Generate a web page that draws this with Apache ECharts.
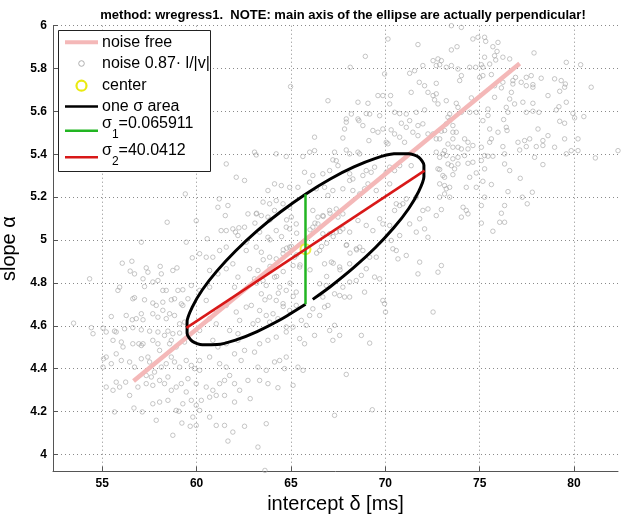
<!DOCTYPE html>
<html lang="en">
<head>
    <meta charset="utf-8">
    <title>wregress1 ellipse</title>
    <script src="https://cdn.jsdelivr.net/npm/echarts@6/dist/echarts.min.js"></script>
</head>
<body style="margin:0">
    <div id="main" style="width:625px;height:517px;"></div>

    <script type="text/javascript">
    // values
    var xTicks = [55, 60, 65, 70, 75, 80];
    var yTicks = [4, 4.2, 4.4, 4.6, 4.8, 5, 5.2, 5.4, 5.6, 5.8, 6];

    var noiseFree = [[56.66, 4.342], [77.12, 5.824]];
    var center = [[65.77, 4.957]];
    var sigma1Line = [[65.77, 4.700], [65.77, 5.214]];
    var sigma2Line = [[59.46, 4.590], [72.08, 5.324]];

    // one sigma ellipse (left open just right of the green line)
    var ellipsePts = [
        [66.155,4.723],[67.082,4.782],[68.336,4.872],[69.479,4.965],[70.459,5.058],[71.234,5.146],
        [71.771,5.227],[72.045,5.295],[72.045,5.349],[71.771,5.386],[71.234,5.403],[70.459,5.402],
        [69.479,5.381],[68.336,5.341],[67.082,5.285],[65.77,5.214],[64.458,5.132],[63.204,5.043],
        [62.061,4.949],[61.081,4.856],[60.306,4.768],[59.769,4.687],[59.495,4.619],[59.495,4.565],
        [59.769,4.528],[60.306,4.511],[61.081,4.512],[62.061,4.533],[63.204,4.573],[64.458,4.629],
        [65.77,4.700]
    ];

    // noisy samples
    var noisePts = [
        [61.57,5.355],[62.1,5.293],[59.4,5.215],[61.2,5.192],[61.66,5.161],[61.13,5.153],[61.52,5.114],[58.44,5.083],
        [60.56,5.006],[61.3,5.044],[61.57,5.044],[61.92,5.052],[62.06,5.037],[62.19,5.021],[62.24,5.057],[57.07,4.99],
        [59.45,4.99],[59.98,5.09],
        [70.14,5.938],[71.73,5.912],[68.94,5.857],[68.14,5.806],[71.29,5.778],[69.96,5.775],[71.55,5.79],[71.99,5.814],
        [71.8,5.736],[72.08,5.72],[72.26,5.689],[71.37,5.689],[64.98,5.716],[69.61,5.674],[69.87,5.674],[70.28,5.674],
        [66.96,5.65],[68.55,5.643],[69.08,5.638],[70.23,5.635],[68.2,5.588],[68.99,5.59],[69.17,5.588],[69.7,5.58],
        [67.93,5.565],[67.93,5.55],[68.55,5.565],[68.6,5.557],[70.49,5.596],[70.76,5.59],[71.11,5.588],[71.64,5.596],
        [72.08,5.607],[70.85,5.545],[71.29,5.557],[71.11,5.526],[71.73,5.534],[71.99,5.542],[67.84,5.518],[68.81,5.534],
        [69.34,5.511],[69.61,5.503],[69.87,5.518],[70.31,5.514],[67.75,5.476],[69.13,5.464],[70.49,5.495],[70.76,5.48],
        [66.25,5.48],[70.05,5.456],[70.14,5.449],[71.02,5.456],[71.46,5.503],[71.73,5.487],[72.26,5.495],[63.07,5.41],
        [63.16,5.397],[64.22,5.402],[64.75,5.39],[65.63,5.39],[65.99,5.41],[66.25,5.417],[67.31,5.41],[67.93,5.42],
        [68.11,5.402],[68.55,5.41],[68.64,5.402],[67.4,5.37],[67.22,5.374],[62.54,5.278],[65.72,5.316],[66.16,5.301],
        [66.69,5.309],[67.05,5.324],[67.49,5.347],[68.11,5.309],[68.28,5.285],[68.11,5.278],[68.81,5.301],[68.99,5.324],
        [69.43,5.34],[69.25,5.316],[70.23,5.34],[70.49,5.324],[70.76,5.347],[71.37,5.347],[70.05,5.316],[63.78,5.231],
        [64.13,5.262],[64.49,5.254],[64.93,5.246],[65.37,5.246],[65.99,5.27],[66.34,5.239],[66.78,5.246],[67.22,5.231],
        [66.96,5.208],[67.75,5.239],[68.28,5.231],[68.64,5.215],[68.9,5.239],[69.08,5.262],[69.52,5.231],[70.23,5.262],
        [70.58,5.169],[70.76,5.161],[70.93,5.169],[70.49,5.138],[71.11,5.192],[71.64,5.2],[72.26,5.145],[71.99,5.138],
        [63.52,5.177],[63.87,5.169],[64.22,5.184],[64.58,5.169],[64.93,5.153],[62.72,5.122],[63.16,5.122],[63.43,5.114],
        [63.78,5.107],[64.13,5.138],[64.75,5.06],[65.02,5.107],[65.28,5.075],[64.93,5.052],[66.16,5.138],[66.43,5.107],
        [66.69,5.114],[67.05,5.138],[67.4,5.145],[67.75,5.122],[67.49,5.107],[66.16,5.06],[66.43,5.075],[66.69,5.029],
        [67.05,5.029],[67.4,5.037],[67.75,5.052],[68.11,5.037],[68.55,5.091],[68.99,5.068],[69.34,5.044],[69.7,5.099],
        [69.87,5.075],[70.23,5.068],[71.29,5.075],[71.82,5.099],[71.64,5.037],[72.08,5.052],[72.26,5.013],[70.76,5.021],
        [70.31,4.998],[62.54,5.06],[62.63,4.99],[63.34,5.037],[63.78,5.013],[64.22,5.044],
        [73.5,6.0],[74.03,5.992],[74.64,5.938],[74.91,5.946],[75.26,5.946],[75.32,5.927],[75.97,5.922],[75.7,5.902],
        [75.92,5.88],[73.8,5.902],[73.5,5.887],[75.26,5.853],[75.79,5.86],[76.23,5.853],[76.59,5.845],[77.88,5.873],
        [79.59,5.829],[80.35,5.818],[80.91,5.713],[72.53,5.837],[72.7,5.814],[72.97,5.837],[72.79,5.845],[72.88,5.818],
        [73.23,5.806],[73.5,5.814],[73.85,5.798],[74.03,5.767],[73.94,5.744],[74.47,5.806],[74.79,5.806],[75.17,5.806],
        [75.09,5.818],[75.53,5.821],[75.85,5.84],[72.7,5.731],[72.53,5.674],[72.79,5.635],[73.23,5.65],[72.7,5.682],
        [72.61,5.654],[74.56,5.663],[75.0,5.759],[75.17,5.767],[75.62,5.772],[75.79,5.72],[76.23,5.736],[76.15,5.71],
        [76.76,5.744],[76.76,5.728],[76.9,5.759],[77.47,5.759],[77.73,5.767],[78.26,5.755],[77.47,5.72],[77.82,5.713],
        [77.82,5.725],[77.2,5.736],[78.97,5.752],[79.32,5.744],[79.54,5.728],[79.5,5.713],[79.24,5.694],[78.62,5.674],
        [79.59,5.643],[79.2,5.622],[79.06,5.607],[76.68,5.689],[76.59,5.658],[76.85,5.635],[76.41,5.619],[76.5,5.596],
        [77.29,5.643],[77.82,5.638],[75.79,5.666],[73.76,5.638],[73.85,5.619],[75.44,5.611],[74.82,5.596],[73.41,5.588],
        [73.32,5.573],[73.41,5.557],[74.03,5.596],[74.47,5.596],[77.47,5.596],[77.82,5.601],[78.14,5.596],[78.09,5.518],
        [78.35,5.464],[78.62,5.487],[79.24,5.554],[79.5,5.545],[79.94,5.591],[80.03,5.57],[80.52,5.576],[79.5,5.472],
        [73.23,5.542],[73.58,5.534],[73.14,5.511],[72.53,5.495],[72.97,5.508],[73.58,5.503],[73.76,5.503],[72.7,5.472],
        [72.88,5.472],[73.32,5.448],[73.14,5.417],[73.58,5.472],[73.58,5.433],[73.85,5.433],[74.03,5.425],[74.2,5.472],
        [74.38,5.456],[74.38,5.425],[74.64,5.441],[75.17,5.557],[75.44,5.581],[76.27,5.562],[76.41,5.526],[76.45,5.511],
        [75.97,5.503],[75.53,5.518],[75.62,5.472],[75.53,5.456],[75.09,5.433],[76.23,5.436],[77.03,5.456],[77.12,5.42],
        [77.38,5.464],[77.65,5.472],[77.47,5.436],[78.0,5.436],[78.35,5.441],[78.97,5.433],[79.59,5.402],[79.85,5.417],
        [80.21,5.472],[80.21,5.417],[81.13,5.383],[82.33,5.417],[72.7,5.41],[73.05,5.402],[72.88,5.386],[73.23,5.394],
        [73.32,5.355],[73.58,5.379],[73.85,5.386],[74.2,5.394],[75.26,5.394],[75.44,5.391],[75.7,5.391],[76.32,5.402],
        [77.91,5.386],[78.35,5.352],[72.79,5.332],[72.88,5.329],[73.05,5.301],[73.5,5.347],[73.67,5.332],[73.85,5.355],
        [74.38,5.358],[74.64,5.363],[75.09,5.371],[75.26,5.332],[76.32,5.355],[76.59,5.324],[73.14,5.293],[73.58,5.305],
        [74.47,5.293],[75.17,5.274],[74.82,5.313],[77.15,5.288],[75.62,5.259],[72.88,5.262],[73.14,5.254],[73.23,5.239],
        [73.41,5.246],[73.14,5.215],[72.88,5.2],[73.41,5.2],[74.29,5.246],[74.82,5.246],[76.5,5.226],[77.79,5.223],
        [77.26,5.2],[75.26,5.2],[75.09,5.161],[76.32,5.161],[77.52,5.169],[72.97,5.142],[74.12,5.153],[74.29,5.138],
        [74.38,5.122],[74.03,5.107],[72.7,5.114],[76.15,5.125],[76.32,5.083],[76.06,5.083],[75.7,5.041],[75.09,5.079],
        [54.33,4.819],[53.48,4.612],[54.51,4.563],[54.42,4.591],[56.06,4.892],[56.57,4.901],[56.48,4.855],[56.71,4.842],
        [57.33,4.87],[57.42,4.85],[58.07,4.877],[58.74,4.858],[58.96,4.87],[59.77,4.917],[55.92,4.78],[55.83,4.765],
        [57.16,4.819],[57.24,4.783],[57.68,4.804],[57.95,4.811],[58.13,4.842],[58.21,4.765],[58.39,4.765],[59.01,4.765],
        [59.27,4.768],[59.72,4.788],[56.62,4.726],[56.71,4.731],[57.24,4.721],[57.68,4.706],[57.86,4.695],[58.21,4.71],
        [58.21,4.672],[58.66,4.721],[58.83,4.726],[59.19,4.702],[59.27,4.695],[59.54,4.726],[55.48,4.643],[56.27,4.648],
        [56.59,4.628],[56.8,4.633],[57.07,4.656],[57.16,4.628],[57.68,4.656],[57.95,4.64],[58.39,4.633],[58.57,4.656],
        [58.83,4.648],[59.1,4.609],[59.36,4.617],[55.04,4.589],[55.21,4.571],[55.65,4.575],[55.74,4.571],[56.18,4.586],
        [56.62,4.591],[57.07,4.581],[57.51,4.575],[57.95,4.571],[58.3,4.555],[58.48,4.575],[58.74,4.563],[59.1,4.566],
        [55.57,4.532],[56.01,4.524],[56.1,4.501],[56.62,4.516],[57.07,4.508],[56.94,4.516],[57.16,4.516],[57.68,4.532],
        [57.95,4.516],[58.04,4.485],[58.57,4.516],[58.66,4.532],[58.92,4.501],[59.36,4.524],[55.07,4.446],[55.21,4.454],
        [55.04,4.407],[55.48,4.423],[55.74,4.469],[56.01,4.438],[56.45,4.431],[56.71,4.407],[57.07,4.446],[57.42,4.454],
        [57.51,4.431],[57.77,4.384],[58.13,4.407],[58.39,4.423],[58.66,4.454],[58.83,4.431],[59.1,4.407],[59.45,4.438],
        [59.72,4.415],[59.89,4.4],[55.21,4.314],[55.57,4.299],[55.74,4.337],[55.92,4.314],[56.24,4.337],[56.45,4.275],
        [56.89,4.314],[57.33,4.368],[57.33,4.33],[57.6,4.361],[57.68,4.322],[58.04,4.345],[58.3,4.33],[58.48,4.361],
        [58.66,4.299],[58.92,4.314],[59.19,4.33],[59.45,4.291],[59.54,4.353],[59.98,4.33],[55.65,4.198],[56.68,4.216],
        [57.12,4.198],[57.68,4.236],[58.04,4.244],[58.48,4.252],[58.92,4.205],[59.06,4.201],[59.27,4.236],[59.72,4.252],
        [59.98,4.229],[57.86,4.159],[59.22,4.146],[59.66,4.131],[58.74,4.089],[59.8,4.174],
        [60.16,4.936],[60.51,4.92],[60.86,4.92],[61.22,4.951],[61.57,4.967],[61.92,4.889],[60.69,4.858],[61.13,4.842],
        [61.57,4.866],[62.19,4.827],[62.01,4.78],[60.69,4.78],[60.16,4.765],[60.51,4.718],[61.04,4.671],[61.57,4.695],
        [62.1,4.664],[62.28,4.625],[60.69,4.633],[61.04,4.609],[61.75,4.578],[62.19,4.563],[60.16,4.578],[60.86,4.532],
        [61.13,4.501],[61.57,4.516],[62.19,4.532],[60.16,4.438],[60.69,4.454],[61.22,4.423],[61.57,4.407],[62.01,4.469],
        [62.36,4.438],[60.16,4.392],[60.51,4.314],[60.86,4.299],[61.22,4.33],[61.48,4.345],[61.75,4.368],[62.01,4.33],
        [62.28,4.299],[60.25,4.252],[60.69,4.267],[61.04,4.275],[61.48,4.275],[62.01,4.244],[60.69,4.174],[61.04,4.135],
        [61.48,4.135],[61.92,4.104],[61.66,4.062],[59.98,4.135],[60.16,4.205],
        [62.63,4.951],[63.16,4.967],[63.43,4.943],[63.87,4.92],[64.22,4.912],[64.58,4.936],[64.93,4.967],[65.19,4.92],
        [65.11,4.881],[65.46,4.874],[62.81,4.866],[63.25,4.858],[63.07,4.819],[63.52,4.811],[63.69,4.788],[64.13,4.827],
        [64.4,4.78],[64.75,4.765],[65.28,4.757],[63.43,4.749],[63.87,4.734],[64.22,4.718],[64.58,4.703],[62.63,4.687],
        [62.9,4.695],[63.34,4.671],[63.69,4.648],[64.05,4.656],[63.25,4.625],[62.99,4.609],[63.87,4.617],[64.31,4.633],
        [64.93,4.671],[65.28,4.695],[65.55,4.625],[65.99,4.648],[66.52,4.648],[66.78,4.687],[66.16,4.679],[64.75,4.594],
        [65.11,4.594],[65.81,4.602],[66.25,4.555],[67.05,4.578],[67.31,4.602],[67.58,4.555],[67.22,4.532],[62.54,4.485],
        [63.07,4.477],[63.34,4.516],[63.78,4.532],[64.22,4.547],[64.75,4.571],[65.46,4.54],[65.72,4.516],[64.13,4.431],
        [64.4,4.438],[64.75,4.454],[63.25,4.407],[63.69,4.392],[64.66,4.4],[65.37,4.407],[65.64,4.392],[62.72,4.345],
        [63.34,4.345],[63.78,4.33],[64.31,4.311],[65.11,4.322],[67.93,4.373],[68.73,4.555],[69.17,4.519],[62.84,4.26],
        [63.69,4.143],[62.54,4.131],[63.25,4.034],[67.31,4.182],[69.31,4.208],[63.62,3.925],
        [66.78,4.889],[67.14,4.897],[67.58,4.874],[68.11,4.889],[68.46,4.959],[68.64,4.967],[68.81,4.951],[69.17,4.92],
        [69.52,4.92],[68.99,4.866],[69.43,4.827],[69.7,4.819],[68.73,4.835],[68.46,4.811],[68.11,4.804],[67.75,4.78],
        [67.58,4.741],[67.31,4.749],[67.84,4.734],[68.11,4.734],[66.87,4.788],[66.52,4.796],[66.69,4.734],[66.96,4.695],
        [68.9,4.757],[69.87,4.718],[69.96,4.703],[70.01,4.664],[70.4,4.959],[70.58,4.951],[71.11,4.928],[70.67,4.912],
        [71.82,4.897],[71.73,4.842],[66.52,4.951],[67.93,4.975],
        [72.97,4.881],[72.79,4.85],[72.53,4.664],
        [63.18,5.125],[63.09,5.079],[63.89,5.094],[64.59,4.954],[64.77,4.962],[65.03,4.97],[65.3,4.931],[65.48,4.884],
        [66.01,4.861],[66.36,4.939],[66.62,4.97],[66.89,4.985],[67.24,5.016],[67.6,5.04],[67.95,4.978],[68.13,4.939],
        [68.48,4.954],[67.24,4.892],[67.6,4.861],[66.89,4.83],[63.53,4.908],[63.89,4.877],[63.18,4.799],[64.24,4.83],
        [64.59,4.853],[64.95,4.799],[64.33,4.752],[65.12,4.737],[64.59,4.69],[63.62,4.721],[66.01,5.048],[66.27,5.079],
        [66.71,5.11],[67.07,5.125],[64.77,5.094],[65.3,5.032],[64.5,5.016],[63.89,5.001]
    ];

    var FONT = '"Liberation Sans", Helvetica, Arial, sans-serif';
    var PINK = '#f4b8b8', GREEN = '#22b522', RED = '#d81818', YELLOW = '#eaea10', GRAY = '#a6a6a6';

    var myChart = echarts.init(document.getElementById('main'), null, {renderer: 'canvas'});

    // legend box drawn by hand so the MATLAB layout (subscripts, marker sizes) can be kept
    var legendGraphics = [
        {type: 'rect', shape: {x: 58.5, y: 30.5, width: 152, height: 141},
         style: {fill: '#fff', stroke: '#222', lineWidth: 1}},
        {type: 'line', shape: {x1: 65, y1: 42.3, x2: 98, y2: 42.3}, style: {stroke: PINK, lineWidth: 4}},
        {type: 'circle', shape: {cx: 81.5, cy: 63.5, r: 2.8}, style: {fill: 'none', stroke: GRAY, lineWidth: 0.9}},
        {type: 'circle', shape: {cx: 81.5, cy: 85.7, r: 5}, style: {fill: 'none', stroke: YELLOW, lineWidth: 2.2}},
        {type: 'line', shape: {x1: 65, y1: 106.5, x2: 98, y2: 106.5}, style: {stroke: '#000', lineWidth: 2.5}},
        {type: 'line', shape: {x1: 65, y1: 130.7, x2: 98, y2: 130.7}, style: {stroke: GREEN, lineWidth: 2.5}},
        {type: 'line', shape: {x1: 65, y1: 157.3, x2: 98, y2: 157.3}, style: {stroke: RED, lineWidth: 2.5}}
    ];
    var legendTexts = [
        ['noise free', 42.5],
        ['noise 0.87\u00b7 l/|v|', 64],
        ['center', 86],
        ['one \u03c3 area', 107]
    ];
    legendTexts.forEach(function (t) {
        legendGraphics.push({type: 'text', x: 102, y: t[1],
            style: {text: t[0], font: '16px ' + FONT, fill: '#000', verticalAlign: 'middle', align: 'left'}});
    });
    var subRich = {
        m: {fontSize: 16, lineHeight: 16, fontFamily: FONT, fill: '#000'},
        s: {fontSize: 12, lineHeight: 12, fontFamily: FONT, fill: '#000', padding: [21, 0, 0, 0]}
    };
    legendGraphics.push({type: 'text', x: 102, y: 124,
        style: {text: '{m|\u03c3}{s|1}{m|=0.065911}', rich: subRich, verticalAlign: 'middle', align: 'left'}});
    legendGraphics.push({type: 'text', x: 102, y: 150.7,
        style: {text: '{m|\u03c3}{s|2}{m|=40.0412}', rich: subRich, verticalAlign: 'middle', align: 'left'}});
    legendGraphics.forEach(function (g) { g.z = 100; g.silent = true; });

    myChart.setOption({
        animation: false,
        backgroundColor: '#fff',
        title: {
            text: 'method: wregress1.  NOTE: main axis of the ellipse are actually perpendicular!',
            left: 338, top: 4, textAlign: 'center',
            textStyle: {fontSize: 13, fontWeight: 'bold', fontFamily: FONT, color: '#000'}
        },
        grid: {left: 53, right: 7, top: 25.7, bottom: 45.5, containLabel: false, outerBoundsMode: 'none'},
        xAxis: {
            type: 'value', min: 52.39, max: 82.33, splitNumber: 6,
            name: 'intercept \u03b4 [ms]', nameLocation: 'middle', nameGap: 20,
            nameTextStyle: {fontSize: 20, fontFamily: FONT, color: '#000'},
            axisLine: {lineStyle: {color: '#555', width: 1}},
            axisTick: {inside: true, length: 5, lineStyle: {color: '#555'}, customValues: xTicks},
            axisLabel: {customValues: xTicks, margin: 6, fontSize: 12, fontWeight: 'bold', fontFamily: FONT, color: '#000'},
            splitLine: {show: true, lineStyle: {type: [1, 3], color: '#8a8a8a', width: 1}}
        },
        yAxis: {
            type: 'value', min: 3.92, max: 6, splitNumber: 10,
            name: 'slope \u03b1', nameLocation: 'middle', nameGap: 26, nameRotate: 90,
            nameTextStyle: {fontSize: 20, fontFamily: FONT, color: '#000'},
            axisLine: {show: true, lineStyle: {color: '#555', width: 1}},
            axisTick: {show: true, inside: true, length: 5, lineStyle: {color: '#555'}, customValues: yTicks},
            axisLabel: {customValues: yTicks, margin: 6, fontSize: 12, fontWeight: 'bold', fontFamily: FONT, color: '#000'},
            splitLine: {show: true, lineStyle: {type: [1, 3], color: '#8a8a8a', width: 1}}
        },
        graphic: legendGraphics,
        series: [
            {
                name: 'noise 0.87\u00b7 l/|v|', type: 'scatter', data: noisePts,
                symbol: 'circle', symbolSize: 4.5,
                itemStyle: {color: 'rgba(0,0,0,0)', borderColor: GRAY, borderWidth: 0.8},
                z: 2
            },
            {
                name: 'noise free', type: 'line', data: noiseFree, showSymbol: false,
                lineStyle: {color: PINK, width: 4.5}, z: 3
            },
            {
                name: 'one \u03c3 area', type: 'line', data: ellipsePts, showSymbol: false, smooth: 0.25,
                lineStyle: {color: '#000', width: 3}, z: 4
            },
            {
                name: 'center', type: 'scatter', data: center, symbol: 'circle', symbolSize: 10,
                itemStyle: {color: 'rgba(0,0,0,0)', borderColor: YELLOW, borderWidth: 2}, z: 5
            },
            {
                name: 'sigma1', type: 'line', data: sigma1Line, showSymbol: false,
                lineStyle: {color: GREEN, width: 2.5}, z: 6
            },
            {
                name: 'sigma2', type: 'line', data: sigma2Line, showSymbol: false,
                lineStyle: {color: RED, width: 2.5}, z: 6
            }
        ]
    });
    </script>
</body>
</html>
